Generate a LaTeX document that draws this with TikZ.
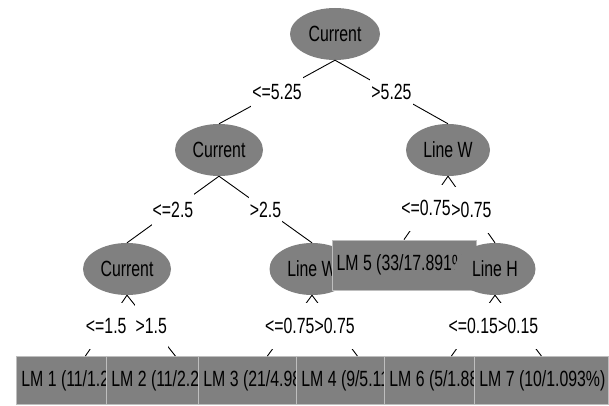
\documentclass[tikz,border=0pt]{standalone}
\usepackage{fontspec}
\newfontfamily\treefont[FakeStretch=0.72]{Liberation Sans}
\usetikzlibrary{shapes.geometric}
\definecolor{nodegray}{RGB}{128,128,128}
\definecolor{rimgray}{RGB}{190,190,190}
% leaf text: left aligned in a fixed-width box; overflow is hidden by the next box
\newcommand{\leaftext}[2]{\makebox[#1][l]{\hspace{5pt}#2}}
\begin{document}
\begin{tikzpicture}[x=1pt,y=-1pt,
  every node/.style={font=\treefont\fontsize{22}{26}\selectfont},
  split/.style={ellipse,fill=nodegray,inner sep=0pt,minimum height=52pt},
  leafbox/.style={rectangle,fill=nodegray,draw=rimgray,line width=0.8pt,inner sep=0pt,minimum height=48pt,anchor=north west},
  cond/.style={fill=white,inner xsep=1pt,inner ysep=0pt,minimum height=46pt},
  wire/.style={line width=0.9pt}]
\fill[white] (0,0) rectangle (609,406);
\useasboundingbox (0,0) rectangle (609,406);

% nodes in tree order, later ones lie over earlier ones
\node[split,minimum width=90pt] (root) at (335,34) {Current};
\node[split,minimum width=88pt] (cur2) at (219,150) {Current};
\node[split,minimum width=88pt] (cur3) at (127,269) {Current};
\node[leafbox] (lm1) at (16,356) {\leaftext{138pt}{LM 1 (11/1.2}};
\node[leafbox] (lm2) at (106,356) {\leaftext{138pt}{LM 2 (11/2.2}};
\node[split,minimum width=85pt] (linew3) at (312,269) {Line W};
\node[leafbox] (lm3) at (198,356) {\leaftext{138pt}{LM 3 (21/4.98}};
\node[leafbox] (lm4) at (296,356) {\leaftext{122pt}{LM 4 (9/5.11}};
\node[split,minimum width=84pt] (linew2) at (448,150) {Line W};
\node[rectangle,fill=nodegray,draw=rimgray,line width=0.8pt,inner sep=0pt,
      minimum width=144pt,minimum height=50pt] (lm5) at (404,265) {LM 5 (33/17.891\%)};
\node[split,minimum width=81pt] (lineh) at (495,269) {Line H};
\node[leafbox] (lm6) at (384,356) {\leaftext{134pt}{LM 6 (5/1.88}};
\node[leafbox] (lm7) at (474,356) {\leaftext{134pt}{LM 7 (10/1.093\%)}};

% branches with their split conditions
\draw[wire] (root.south) -- (cur2.north) node[cond,pos=0.5] {<=5.25};
\draw[wire] (root.south) -- (linew2.north) node[cond,pos=0.5] {>5.25};
\draw[wire] (cur2.south) -- (cur3.north) node[cond,pos=0.5] {<=2.5};
\draw[wire] (cur2.south) -- (linew3.north) node[cond,pos=0.5] {>2.5};
\draw[wire] (linew2.south) -- (lm5.north) node[cond,pos=0.5] {<=0.75};
\draw[wire] (linew2.south) -- (lineh.north) node[cond,pos=0.5] {>0.75};
\draw[wire] (cur3.south) -- (lm1.north) node[cond,pos=0.5] {<=1.5};
\draw[wire] (cur3.south) -- (lm2.north) node[cond,pos=0.5] {>1.5};
\draw[wire] (linew3.south) -- (lm3.north) node[cond,pos=0.5] {<=0.75};
\draw[wire] (linew3.south) -- (lm4.north) node[cond,pos=0.5] {>0.75};
\draw[wire] (lineh.south) -- (lm6.north) node[cond,pos=0.5] {<=0.15};
\draw[wire] (lineh.south) -- (lm7.north) node[cond,pos=0.5] {>0.15};
\end{tikzpicture}
\end{document}
